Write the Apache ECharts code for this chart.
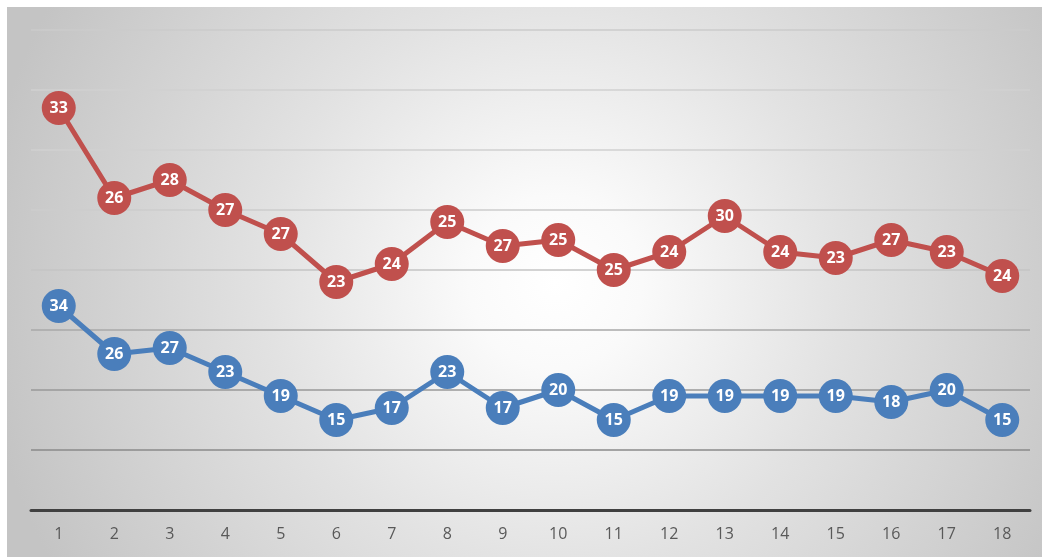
<!DOCTYPE html>
<html>
<head>
<meta charset="utf-8">
<script src="https://cdn.jsdelivr.net/npm/echarts@6/dist/echarts.min.js"></script>
<style>
  html, body { margin: 0; padding: 0; background: #ffffff; }
  #chart { width: 1042px; height: 557px; }
</style>
</head>
<body>
<div id="chart"></div>
<script>
// Category labels along the bottom axis
const categories = ['1','2','3','4','5','6','7','8','9','10','11','12','13','14','15','16','17','18'];
// Lower series (blue), stacked first
const seriesBlue = [34, 26, 27, 23, 19, 15, 17, 23, 17, 20, 15, 19, 19, 19, 19, 18, 20, 15];
// Upper series (red), stacked on top of the blue one
const seriesRed = [33, 26, 28, 27, 27, 23, 24, 25, 27, 25, 25, 24, 30, 24, 23, 27, 23, 24];

const chart = echarts.init(document.getElementById('chart'), null, { renderer: 'canvas' });

const labelStyle = {
  show: true,
  position: 'inside',
  color: '#ffffff',
  fontFamily: 'Open Sans, Noto Sans, sans-serif',
  fontWeight: 'bold',
  fontSize: 16
};

chart.setOption({
  animation: false,
  graphic: [{
    type: 'rect',
    z: -10,
    silent: true,
    shape: { x: 7, y: 7, width: 1035, height: 550 },
    style: {
      fill: new echarts.graphic.RadialGradient(0.53, 0.5, 1.05, [
        { offset: 0, color: '#ffffff' },
        { offset: 0.15, color: '#fafafa' },
        { offset: 0.5, color: '#e2e2e2' },
        { offset: 1, color: '#c4c4c4' }
      ])
    }
  }],
  grid: { left: 31, right: 12, top: 30, bottom: 47, containLabel: false },
  xAxis: {
    type: 'category',
    data: categories,
    boundaryGap: true,
    axisLine: { show: true, lineStyle: { color: '#404040', width: 3 } },
    axisTick: { show: false },
    axisLabel: {
      color: '#595959',
      fontFamily: 'Open Sans, Noto Sans, sans-serif',
      fontSize: 16,
      margin: 16
    }
  },
  yAxis: {
    type: 'value',
    min: 0,
    max: 80,
    interval: 10,
    axisLabel: { show: false },
    axisLine: { show: false },
    axisTick: { show: false },
    splitLine: {
      show: true,
      lineStyle: {
        width: 1.5,
        color: ['#404040', '#8a8a8a', '#999999', '#a8a8a8', '#c4c4c4', '#cccccc', '#d0d0d0', '#d0d0d0', '#cbcbcb']
      }
    }
  },
  series: [
    {
      name: 'A',
      type: 'line',
      stack: 'total',
      data: seriesBlue,
      symbol: 'circle',
      symbolSize: 34,
      lineStyle: { color: '#4a7ebb', width: 5 },
      itemStyle: { color: '#4a7ebb' },
      label: labelStyle,
      z: 3
    },
    {
      name: 'B',
      type: 'line',
      stack: 'total',
      data: seriesRed,
      symbol: 'circle',
      symbolSize: 34,
      lineStyle: { color: '#c0504d', width: 5 },
      itemStyle: { color: '#c0504d' },
      label: labelStyle,
      z: 3
    }
  ]
});
</script>
</body>
</html>
